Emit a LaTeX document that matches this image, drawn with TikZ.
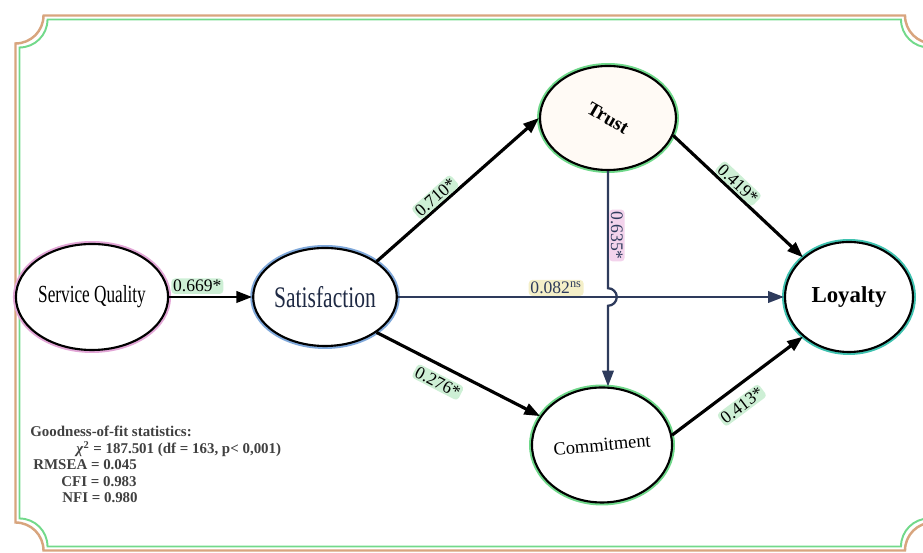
\documentclass[tikz,border=0pt]{standalone}
\usepackage{fontspec}
\setmainfont{Liberation Serif}
\usetikzlibrary{arrows.meta,shapes.geometric}

\definecolor{frametan}{HTML}{D8A57E}
\definecolor{framegreen}{HTML}{72D98A}
\definecolor{sqhalo}{HTML}{E2A6D6}
\definecolor{sathalo}{HTML}{7FA8DA}
\definecolor{greenhalo}{HTML}{6FD88A}
\definecolor{tealhalo}{HTML}{3FC2B0}
\definecolor{slate}{HTML}{2E3B5C}
\definecolor{coefgreen}{HTML}{CDEFD5}
\definecolor{coefyellow}{HTML}{F4EFC8}
\definecolor{coefpink}{HTML}{F3D3EC}
\definecolor{navy}{HTML}{1F2A44}

\begin{document}
\begin{tikzpicture}
    \tikzstyle{construct} = [draw=black,line width=1.2pt,ellipse,inner sep=0pt,fill=white]
    \tikzstyle{effect} = [-{Triangle[length=9pt,width=6.5pt]},line width=1.8pt]
    \tikzstyle{coef} = [font=\fontsize{10}{10}\selectfont,fill=coefgreen,rounded corners=2pt,inner sep=1pt]
    \tikzstyle{fit} = [font=\fontsize{8.5}{8.5}\selectfont\bfseries,text=black!75,anchor=west,inner sep=0pt]
    \useasboundingbox (0,0) rectangle (18.46,11.06);
    % frame with concave corners
    \draw [frametan,line width=1.4pt] (0.87,10.75) -- (18.10,10.75) arc [start angle=180,end angle=270,radius=0.56]
      -- (18.66,0.61) arc [start angle=90,end angle=180,radius=0.56]
      -- (0.87,0.05) arc [start angle=0,end angle=90,radius=0.56]
      -- (0.31,10.19) arc [start angle=270,end angle=360,radius=0.56] -- cycle;
    \draw [framegreen,line width=1.1pt] (0.95,10.67) -- (18.02,10.67) arc [start angle=180,end angle=270,radius=0.56]
      -- (18.58,0.69) arc [start angle=90,end angle=180,radius=0.56]
      -- (0.95,0.13) arc [start angle=0,end angle=90,radius=0.56]
      -- (0.39,10.11) arc [start angle=270,end angle=360,radius=0.56] -- cycle;
    % constructs
    \node [construct,preaction={draw=sqhalo,line width=3.4pt},minimum width=2.52cm,minimum height=2.12cm] (sq) at (1.84,5.12) {\fontsize{14}{14}\selectfont\scalebox{0.7}[1]{Service Quality}};
    \node [construct,preaction={draw=sathalo,line width=3.4pt},minimum width=2.68cm,minimum height=1.96cm] (sat) at (6.50,5.12) {\fontsize{17}{17}\selectfont\color{navy}\scalebox{0.72}[1]{Satisfaction}};
    \node [construct,fill=orange!4,preaction={draw=greenhalo,line width=3.4pt},minimum width=2.72cm,minimum height=2.08cm] (trust) at (12.16,8.70) {\rotatebox{-30}{\fontsize{11}{11}\selectfont\bfseries Trust}};
    \node [construct,preaction={draw=greenhalo,line width=3.4pt},minimum width=2.80cm,minimum height=2.30cm] (com) at (12.04,2.16) {\rotatebox{5}{\fontsize{10.5}{10.5}\selectfont Commitment}};
    \node [construct,preaction={draw=tealhalo,line width=3.4pt},minimum width=2.56cm,minimum height=2.20cm] (loy) at (16.98,5.12) {\fontsize{13}{13}\selectfont\bfseries Loyalty};
    % paths
    \draw [effect,line width=1.5pt] (sq) to node [coef,above=1pt,pos=0.34] {0.669*} (sat);
    \draw [effect] (sat.north east) to node [coef,sloped,above,pos=0.4] {0.710*} (trust.west);
    \draw [effect] (sat.south east) to node [coef,sloped,below=4pt,pos=0.42] {0.276*} (com.155);
    \draw [effect,line width=1.3pt,slate] (sat) to node [coef,fill=coefyellow,above,pos=0.41] {0.082\textsuperscript{ns}} (loy);
    \coordinate (hop) at (trust.south |- sat.east);
    \draw [effect,line width=1.3pt,slate] (trust.south) -- node [coef,fill=coefpink,pos=0.55,rotate=-90,anchor=south] {0.635*} ([yshift=5pt]hop)
      arc [start angle=90,end angle=-90,radius=5pt] -- (trust.south |- com.north);
    \draw [effect] (trust.-15) to node [coef,sloped,above,pos=0.45] {0.419*} (loy.north west);
    \draw [effect] (com.8) to node [coef,sloped,below=5pt,pos=0.45] {0.413*} (loy.south west);
    % fit statistics
    \node [fit] (gof) at (0.60,2.44) {Goodness-of-fit statistics:};
    \node [fit] (chi) at (1.52,2.08) {\textit{χ}\textsuperscript{2} = 187.501 (df = 163, p< 0,001)};
    \node [fit] (rmsea) at (0.66,1.76) {RMSEA = 0.045};
    \node [fit] (cfi) at (1.22,1.42) {CFI = 0.983};
    \node [fit] (nfi) at (1.24,1.10) {NFI = 0.980};
\end{tikzpicture}
\end{document}
